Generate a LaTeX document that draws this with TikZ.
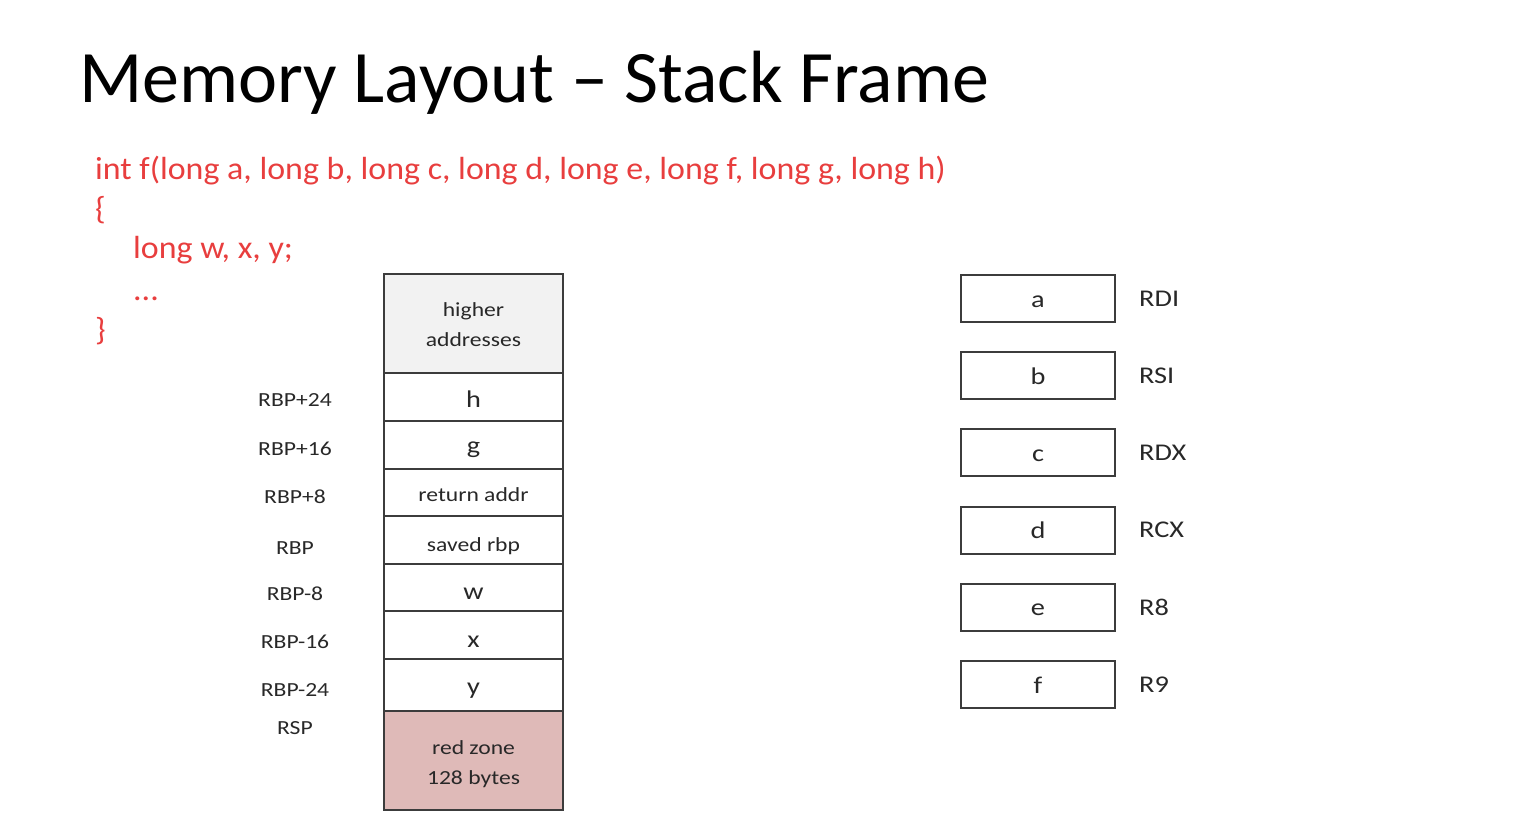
\documentclass[tikz,border=0pt]{standalone}
\usepackage{fontspec}
\setmainfont{Carlito}
\newfontfamily\widefont[FakeStretch=1.18]{Carlito}
\newfontfamily\codefont[FakeStretch=1.06]{Carlito}
\definecolor{codered}{RGB}{232,62,62}
\definecolor{cellline}{RGB}{60,60,60}
\definecolor{highfill}{RGB}{242,242,242}
\definecolor{zonefill}{RGB}{223,186,184}
\definecolor{labelgray}{RGB}{40,40,40}
\begin{document}
\begin{tikzpicture}[x=1pt,y=-1pt,
  cell/.style={draw=cellline,line width=2.4pt,fill=white,inner sep=0pt},
  celltext/.style={font=\widefont\fontsize{20}{30}\selectfont,text=labelgray,align=center,anchor=base,inner sep=0pt},
  bigtext/.style={celltext,font=\widefont\fontsize{24}{30}\selectfont},
  offs/.style={font=\widefont\fontsize{20}{22}\selectfont,text=labelgray,anchor=base,inner sep=0pt},
  regbox/.style={draw=cellline,line width=2pt,fill=white,minimum width=154pt,minimum height=47pt,inner sep=0pt,
    text height=20pt,text depth=3pt,font=\widefont\fontsize{24}{28}\selectfont,text=labelgray},
  regname/.style={font=\widefont\fontsize{24}{28}\selectfont,text=labelgray,anchor=west,inner sep=0pt},
  code/.style={font=\codefont\fontsize{32}{36}\selectfont,text=codered,anchor=base west,inner sep=0pt}]
\useasboundingbox (0,0) rectangle (1520,832);

% title
\node[anchor=base west,inner sep=0pt,font=\fontsize{74}{80}\selectfont] (title) at (79,103) {Memory Layout -- Stack Frame};

% C source
\node[code] (l1) at (95,179) {int f(long a, long b, long c, long d, long e, long f, long g, long h)};
\node[code] (l2) at (95,219) {\{};
\node[code] (l3) at (133,258) {long w, x, y;};
\node[code] (l4) at (133,300) {...};
\node[code] (l5) at (95,340) {\}};

% stack cells
\path[cell,fill=highfill] (384,274) rectangle (563,373);
\path[cell] (384,373) rectangle (563,421);
\path[cell] (384,421) rectangle (563,469);
\path[cell] (384,469) rectangle (563,516);
\path[cell] (384,516) rectangle (563,564);
\path[cell] (384,564) rectangle (563,611);
\path[cell] (384,611) rectangle (563,659);
\path[cell] (384,659) rectangle (563,711);
\path[cell,fill=zonefill] (384,711) rectangle (563,810);

% cell contents
\node[celltext] (hi1) at (473.5,316) {higher};
\node[celltext] (hi2) at (473.5,346) {addresses};
\node[bigtext] (sh) at (473.5,407) {h};
\node[bigtext] (sg) at (473.5,453) {g};
\node[celltext] (sr) at (473.5,501) {return addr};
\node[celltext] (sb) at (473.5,551) {saved rbp};
\node[bigtext] (sw) at (473.5,599) {w};
\node[bigtext] (sx) at (473.5,647) {x};
\node[bigtext] (sy) at (473.5,694) {y};
\node[celltext] (rz1) at (473.5,754) {red zone};
\node[celltext] (rz2) at (473.5,784) {128 bytes};

% frame offsets
\node[offs] (o1) at (295,406) {RBP+24};
\node[offs] (o2) at (295,455) {RBP+16};
\node[offs] (o3) at (295,503) {RBP+8};
\node[offs] (o4) at (295,554) {RBP};
\node[offs] (o5) at (295,600) {RBP-8};
\node[offs] (o6) at (295,648) {RBP-16};
\node[offs] (o7) at (295,696) {RBP-24};
\node[offs] (o8) at (295,734) {RSP};

% argument registers
\foreach \v/\r/\y in {a/RDI/298.5,b/RSI/375.5,c/RDX/452.5,d/RCX/530,e/R8/607,f/R9/684.5}{
  \node[regbox] (box\v) at (1038,\y) {\v};
  \node[regname] (reg\v) at (1139,\y) {\r};
}
\end{tikzpicture}
\end{document}
